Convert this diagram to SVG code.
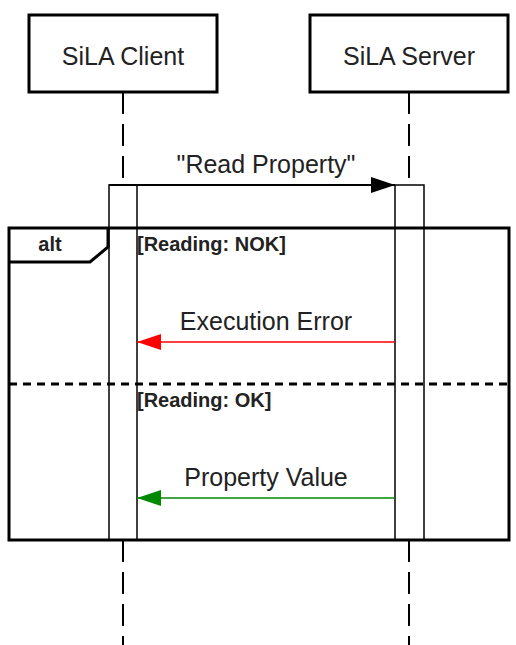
<svg xmlns="http://www.w3.org/2000/svg" width="516" height="645" viewBox="0 0 516 645">
<style>
.box{fill:#fff;stroke:#000;stroke-width:3}
.life{stroke:#000;stroke-width:2;stroke-dasharray:22 10;fill:none}
.act{fill:#fff;stroke:#000;stroke-width:1.5}
.t{font-family:"Liberation Sans",Arial,sans-serif;font-size:25px;fill:#222;text-anchor:middle}
.g{font-family:"Liberation Sans",Arial,sans-serif;font-size:20px;font-weight:bold;fill:#222}
</style>
<defs>
<marker id="ab" markerWidth="24" markerHeight="20" refX="24" refY="10" orient="auto" markerUnits="userSpaceOnUse"><path d="M0,2 L24,10 L0,18 Z" fill="#000"/></marker>
<marker id="ar" markerWidth="24" markerHeight="20" refX="24" refY="10" orient="auto" markerUnits="userSpaceOnUse"><path d="M0,2 L24,10 L0,18 Z" fill="#f00"/></marker>
<marker id="ag" markerWidth="24" markerHeight="20" refX="24" refY="10" orient="auto" markerUnits="userSpaceOnUse"><path d="M0,2 L24,10 L0,18 Z" fill="#080"/></marker>
</defs>
<rect width="516" height="645" fill="#fff"/>
<g id="lifelines">
<line class="life" x1="123" y1="92" x2="123" y2="645"/>
<line class="life" x1="409" y1="92" x2="409" y2="645"/>
</g>
<g id="client">
<rect class="box" x="29" y="15" width="188" height="77"/>
<text class="t" x="123" y="65">SiLA Client</text>
</g>
<g id="server">
<rect class="box" x="310" y="15" width="198" height="77"/>
<text class="t" x="409" y="65">SiLA Server</text>
</g>
<g id="client-activation"><rect class="act" x="109" y="185" width="28" height="355"/></g>
<g id="server-activation"><rect class="act" x="395" y="185" width="29" height="355"/></g>
<g id="alt-frame">
<rect x="9" y="228" width="500" height="312" fill="none" stroke="#000" stroke-width="3"/>
<path d="M9,262 H90 L108,247 V228" fill="none" stroke="#000" stroke-width="3"/>
<text class="g" x="50" y="251" text-anchor="middle">alt</text>
<text class="g" x="137" y="251">[Reading: NOK]</text>
<line x1="9" y1="384" x2="509" y2="384" stroke="#000" stroke-width="3" stroke-dasharray="8 6"/>
<text class="g" x="137" y="407">[Reading: OK]</text>
</g>
<g id="connectors">
<line x1="109" y1="185" x2="395" y2="185" stroke="#000" stroke-width="2" marker-end="url(#ab)"/>
<text class="t" x="266" y="173">"Read Property"</text>
<line x1="395" y1="342" x2="137" y2="342" stroke="#f00" stroke-width="1.5" marker-end="url(#ar)"/>
<text class="t" x="266" y="330">Execution Error</text>
<line x1="395" y1="498" x2="137" y2="498" stroke="#080" stroke-width="1.5" marker-end="url(#ag)"/>
<text class="t" x="266" y="486">Property Value</text>
</g>
</svg>
